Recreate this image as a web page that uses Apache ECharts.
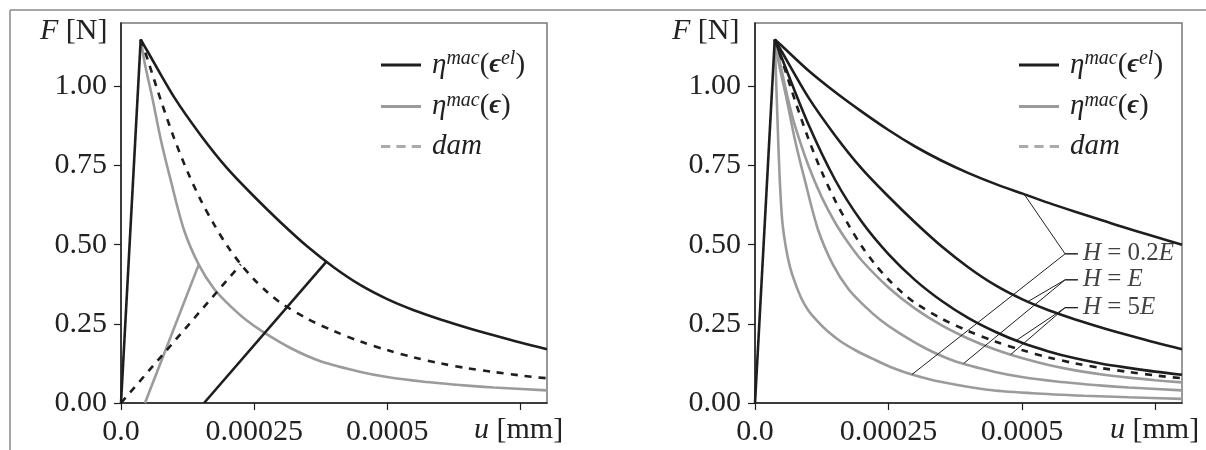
<!DOCTYPE html>
<html>
<head>
<meta charset="utf-8">
<script src="https://cdn.jsdelivr.net/npm/echarts@6/dist/echarts.min.js"></script>
<style>
  html, body { margin: 0; background: #fff; }
  #chart { width: 1206px; height: 450px; }
</style>
</head>
<body>
<div id="chart"></div>
<script>
// tick positions and labels
const uTicks = [0, 0.00025, 0.0005, 0.00075]
const uLabels = ['0.0', '0.00025', '0.0005']
const fTicks = [0, 0.25, 0.5, 0.75, 1.0]

// elastic loading branch (origin -> peak)
const loading = [[0, 0], [0.000037, 1.148]]

// eta^mac(eps^el), black curves  [u mm, F N]
const elSoft = [[0.000037, 1.148], [0.00005, 1.128], [0.0001, 1.05], [0.00015, 0.982], [0.0002, 0.92], [0.00025, 0.862], [0.0003, 0.81], [0.00035, 0.765], [0.0004, 0.726], [0.00045, 0.692], [0.0005, 0.662], [0.00055, 0.632], [0.0006, 0.604], [0.00065, 0.577], [0.0007, 0.55], [0.00075, 0.525], [0.0008, 0.50]]
const elMid = [[0.000037, 1.148], [0.00005, 1.11], [0.0001, 0.965], [0.00015, 0.845], [0.0002, 0.74], [0.00025, 0.652], [0.0003, 0.57], [0.00035, 0.494], [0.0004, 0.428], [0.00045, 0.372], [0.0005, 0.328], [0.00055, 0.293], [0.0006, 0.264], [0.00065, 0.238], [0.0007, 0.214], [0.00075, 0.191], [0.0008, 0.17]]
const elHard = [[0.000037, 1.148], [0.00005, 1.09], [0.0001, 0.88], [0.00015, 0.705], [0.0002, 0.572], [0.00025, 0.47], [0.0003, 0.388], [0.00035, 0.322], [0.0004, 0.268], [0.00045, 0.225], [0.0005, 0.19], [0.00055, 0.163], [0.0006, 0.141], [0.00065, 0.124], [0.0007, 0.111], [0.00075, 0.099], [0.0008, 0.089]]

// eta^mac(eps), grey curves
const epsSoft = [[0.000037, 1.148], [0.000042, 0.9], [0.000046, 0.72], [0.000051, 0.576], [0.000058, 0.49], [0.0000655, 0.43], [0.000075, 0.38], [0.000087, 0.33], [0.0001, 0.292], [0.000116, 0.26], [0.000135, 0.228], [0.00016, 0.195], [0.00019, 0.165], [0.00022, 0.14], [0.000255, 0.113], [0.000294, 0.09], [0.00035, 0.066], [0.000435, 0.042], [0.00052, 0.031], [0.000617, 0.023], [0.0007, 0.018], [0.0008, 0.013]]
const epsMid = [[0.000037, 1.148], [0.000045, 1.07], [0.000058, 0.97], [0.000075, 0.83], [0.000093, 0.706], [0.000118, 0.548], [0.000146, 0.437], [0.000175, 0.36], [0.000206, 0.305], [0.000235, 0.262], [0.000269, 0.222], [0.00032, 0.172], [0.000376, 0.131], [0.00045, 0.098], [0.0005, 0.082], [0.000565, 0.068], [0.00065, 0.055], [0.0007, 0.049], [0.0008, 0.04]]
const epsHard = [[0.000037, 1.148], [0.00005, 1.05], [0.0000625, 0.955], [0.000075, 0.875], [0.0001, 0.75], [0.000125, 0.65], [0.00015, 0.57], [0.000175, 0.505], [0.0002, 0.45], [0.00025, 0.365], [0.0003, 0.298], [0.00035, 0.245], [0.0004, 0.203], [0.00045, 0.169], [0.0005, 0.142], [0.00055, 0.12], [0.0006, 0.103], [0.00065, 0.09], [0.0007, 0.08], [0.00075, 0.072], [0.0008, 0.065]]

// damage model, dashed
const dam = [[0.000037, 1.148], [0.00005, 1.085], [0.000075, 0.955], [0.0001, 0.835], [0.000125, 0.73], [0.00015, 0.64], [0.000175, 0.563], [0.0002, 0.495], [0.000225, 0.438], [0.00025, 0.39], [0.000275, 0.35], [0.0003, 0.316], [0.00035, 0.266], [0.0004, 0.227], [0.00045, 0.194], [0.0005, 0.167], [0.00055, 0.144], [0.0006, 0.125], [0.00065, 0.11], [0.0007, 0.098], [0.00075, 0.087], [0.0008, 0.078]]

// unloading branches (left panel)
const unloadEps = [[0.000045, 0], [0.000146, 0.437]]
const unloadEl = [[0.000156, 0], [0.000385, 0.445]]
const unloadDam = [[0, 0], [0.000225, 0.438]]

// annotation leaders (right panel): curve point, knee, tick end, knee, curve point
const leaderSoft = [[0.000504, 0.66], [0.000581, 0.471], [0.000605, 0.471], [0.000581, 0.471], [0.000294, 0.09]]
const leaderMid = [[0.000511, 0.32], [0.000581, 0.389], [0.000605, 0.389], [0.000581, 0.389], [0.000391, 0.125]]
const leaderHard = [[0.000489, 0.197], [0.000581, 0.301], [0.000605, 0.301], [0.000581, 0.301], [0.000479, 0.153]]
const annotAnchors = [[0.000605, 0.471], [0.000605, 0.389], [0.000605, 0.301]]
const annotText = ['{i|H} = 0.2{i|E}', '{i|H} = {i|E}', '{i|H} = 5{i|E}']

const legendText = {
  el: '{i|η}{sup|mac}{r|(}{b|ϵ}{sup|el}{r|)}',
  eps: '{i|η}{sup|mac}{r|(}{b|ϵ}{r|)}',
  dam: '{i|dam}'
}

const BLACK = '#1e1e1e'
const GREY = '#9b9b9b'
const FONT = "'Liberation Serif', 'DejaVu Serif', serif"

const chart = echarts.init(document.getElementById('chart'), null, { renderer: 'canvas' })

const grids = [
  { left: 121, top: 23, width: 426, height: 380 },
  { left: 755, top: 23, width: 427, height: 380 }
]

const makeX = (gi) => ({
  type: 'value', gridIndex: gi, min: 0, max: 0.0008,
  axisLine: { lineStyle: { color: BLACK, width: 1.5 } },
  axisTick: { customValues: uTicks, length: 7, lineStyle: { color: BLACK, width: 1.2 } },
  axisLabel: {
    customValues: uTicks.slice(0, 3),
    formatter: (v) => uLabels[uTicks.findIndex(t => Math.abs(t - v) < 1e-9)] || '',
    fontFamily: FONT, fontSize: 30, color: '#222', margin: 14
  },
  splitLine: { show: false }
})

const makeY = (gi) => ({
  type: 'value', gridIndex: gi, min: 0, max: 1.2,
  axisLine: { show: true, lineStyle: { color: BLACK, width: 1.5 } },
  axisTick: { show: true, customValues: fTicks, length: 7, lineStyle: { color: BLACK, width: 1.2 } },
  axisLabel: {
    customValues: fTicks,
    formatter: (v) => v.toFixed(2),
    fontFamily: FONT, fontSize: 30, color: '#222', margin: 14
  },
  splitLine: { show: false }
})

const curve = (name, gi, data, color, dashed) => ({
  name, type: 'line', xAxisIndex: gi, yAxisIndex: gi, data,
  smooth: 0.3, symbol: 'none', silent: true,
  itemStyle: { color },
  lineStyle: { color, width: 2.6, type: dashed ? [7, 7] : 'solid' },
  z: dashed ? 4 : (color === BLACK ? 3 : 2)
})

const straight = (name, gi, data, color, dashed, w) => ({
  name, type: 'line', xAxisIndex: gi, yAxisIndex: gi, data,
  symbol: 'none', silent: true,
  itemStyle: { color },
  lineStyle: { color, width: w || 2.6, type: dashed ? [7, 7] : 'solid' },
  z: 3
})

const legendRich = {
  i: { fontFamily: FONT, fontStyle: 'italic', fontSize: 29, color: '#222', lineHeight: 32 },
  r: { fontFamily: FONT, fontSize: 29, color: '#222', lineHeight: 32 },
  b: { fontFamily: FONT, fontWeight: 'bold', fontStyle: 'italic', fontSize: 27, color: '#222', lineHeight: 32 },
  sup: { fontFamily: FONT, fontStyle: 'italic', fontSize: 20, color: '#222', verticalAlign: 'top', lineHeight: 20 }
}

const DASH_ICON = 'path://M0,0h9v3h-9z M15,0h9v3h-9z M30,0h9v3h-9z'

const makeLegend = (left) => ({
  left, top: 44, orient: 'vertical', itemWidth: 40, itemHeight: 3, itemGap: 11,
  selectedMode: false, symbolKeepAspect: false,
  data: [
    { name: 'el', icon: 'rect', itemStyle: { color: BLACK } },
    { name: 'eps', icon: 'rect', itemStyle: { color: GREY } },
    { name: 'dam', icon: DASH_ICON, itemStyle: { color: '#aaa' } }
  ],
  formatter: (n) => legendText[n],
  textStyle: { rich: legendRich, padding: [0, 0, 0, 6] }
})

const option = {
  animation: false,
  backgroundColor: '#fff',
  grid: grids.map(g => ({ ...g, show: true, borderColor: '#777', borderWidth: 1.5, backgroundColor: 'transparent' })),
  xAxis: [makeX(0), makeX(1)],
  yAxis: [makeY(0), makeY(1)],
  legend: [makeLegend(376), makeLegend(1014)],
  series: [
    // left panel: H = E
    curve('eps', 0, epsMid, GREY),
    straight('eps', 0, unloadEps, GREY),
    curve('dam', 0, dam, BLACK, true),
    straight('dam', 0, unloadDam, BLACK, true),
    curve('el', 0, elMid, BLACK),
    straight('el', 0, unloadEl, BLACK),
    straight('el', 0, loading, BLACK),
    // right panel: three hardening moduli
    curve('eps', 1, epsSoft, GREY),
    curve('eps', 1, epsMid, GREY),
    curve('eps', 1, epsHard, GREY),
    curve('dam', 1, dam, BLACK, true),
    curve('el', 1, elSoft, BLACK),
    curve('el', 1, elMid, BLACK),
    curve('el', 1, elHard, BLACK),
    straight('el', 1, loading, BLACK),
    straight('', 1, leaderSoft, BLACK, false, 1),
    straight('', 1, leaderMid, BLACK, false, 1),
    straight('', 1, leaderHard, BLACK, false, 1),
    {
      type: 'scatter', xAxisIndex: 1, yAxisIndex: 1, data: annotAnchors,
      symbolSize: 0, silent: true,
      label: {
        show: true, position: 'right', distance: 5,
        formatter: (p) => annotText[p.dataIndex],
        fontFamily: FONT, fontSize: 25, color: '#111', textBorderWidth: 0,
        rich: { i: { fontFamily: FONT, fontStyle: 'italic', fontSize: 25, color: '#111' } }
      }
    }
  ],
  graphic: [
    { type: 'line', shape: { x1: 10, y1: 10, x2: 1206, y2: 10 }, style: { stroke: '#888', lineWidth: 1.5 } },
    { type: 'line', shape: { x1: 10, y1: 10, x2: 10, y2: 450 }, style: { stroke: '#888', lineWidth: 1.5 } },
    { type: 'text', left: 40, top: 16, style: { text: '{i|F} [N]', font: '30px ' + FONT, fill: '#222', rich: { i: { fontStyle: 'italic', fontFamily: FONT, fontSize: 30, fill: '#222' } } } },
    { type: 'text', left: 672, top: 16, style: { text: '{i|F} [N]', font: '30px ' + FONT, fill: '#222', rich: { i: { fontStyle: 'italic', fontFamily: FONT, fontSize: 30, fill: '#222' } } } },
    { type: 'text', left: 474, top: 415, style: { text: '{i|u} [mm]', font: '30px ' + FONT, fill: '#222', rich: { i: { fontStyle: 'italic', fontFamily: FONT, fontSize: 30, fill: '#222' } } } },
    { type: 'text', left: 1110, top: 415, style: { text: '{i|u} [mm]', font: '30px ' + FONT, fill: '#222', rich: { i: { fontStyle: 'italic', fontFamily: FONT, fontSize: 30, fill: '#222' } } } }
  ]
}

chart.setOption(option)
</script>
</body>
</html>
